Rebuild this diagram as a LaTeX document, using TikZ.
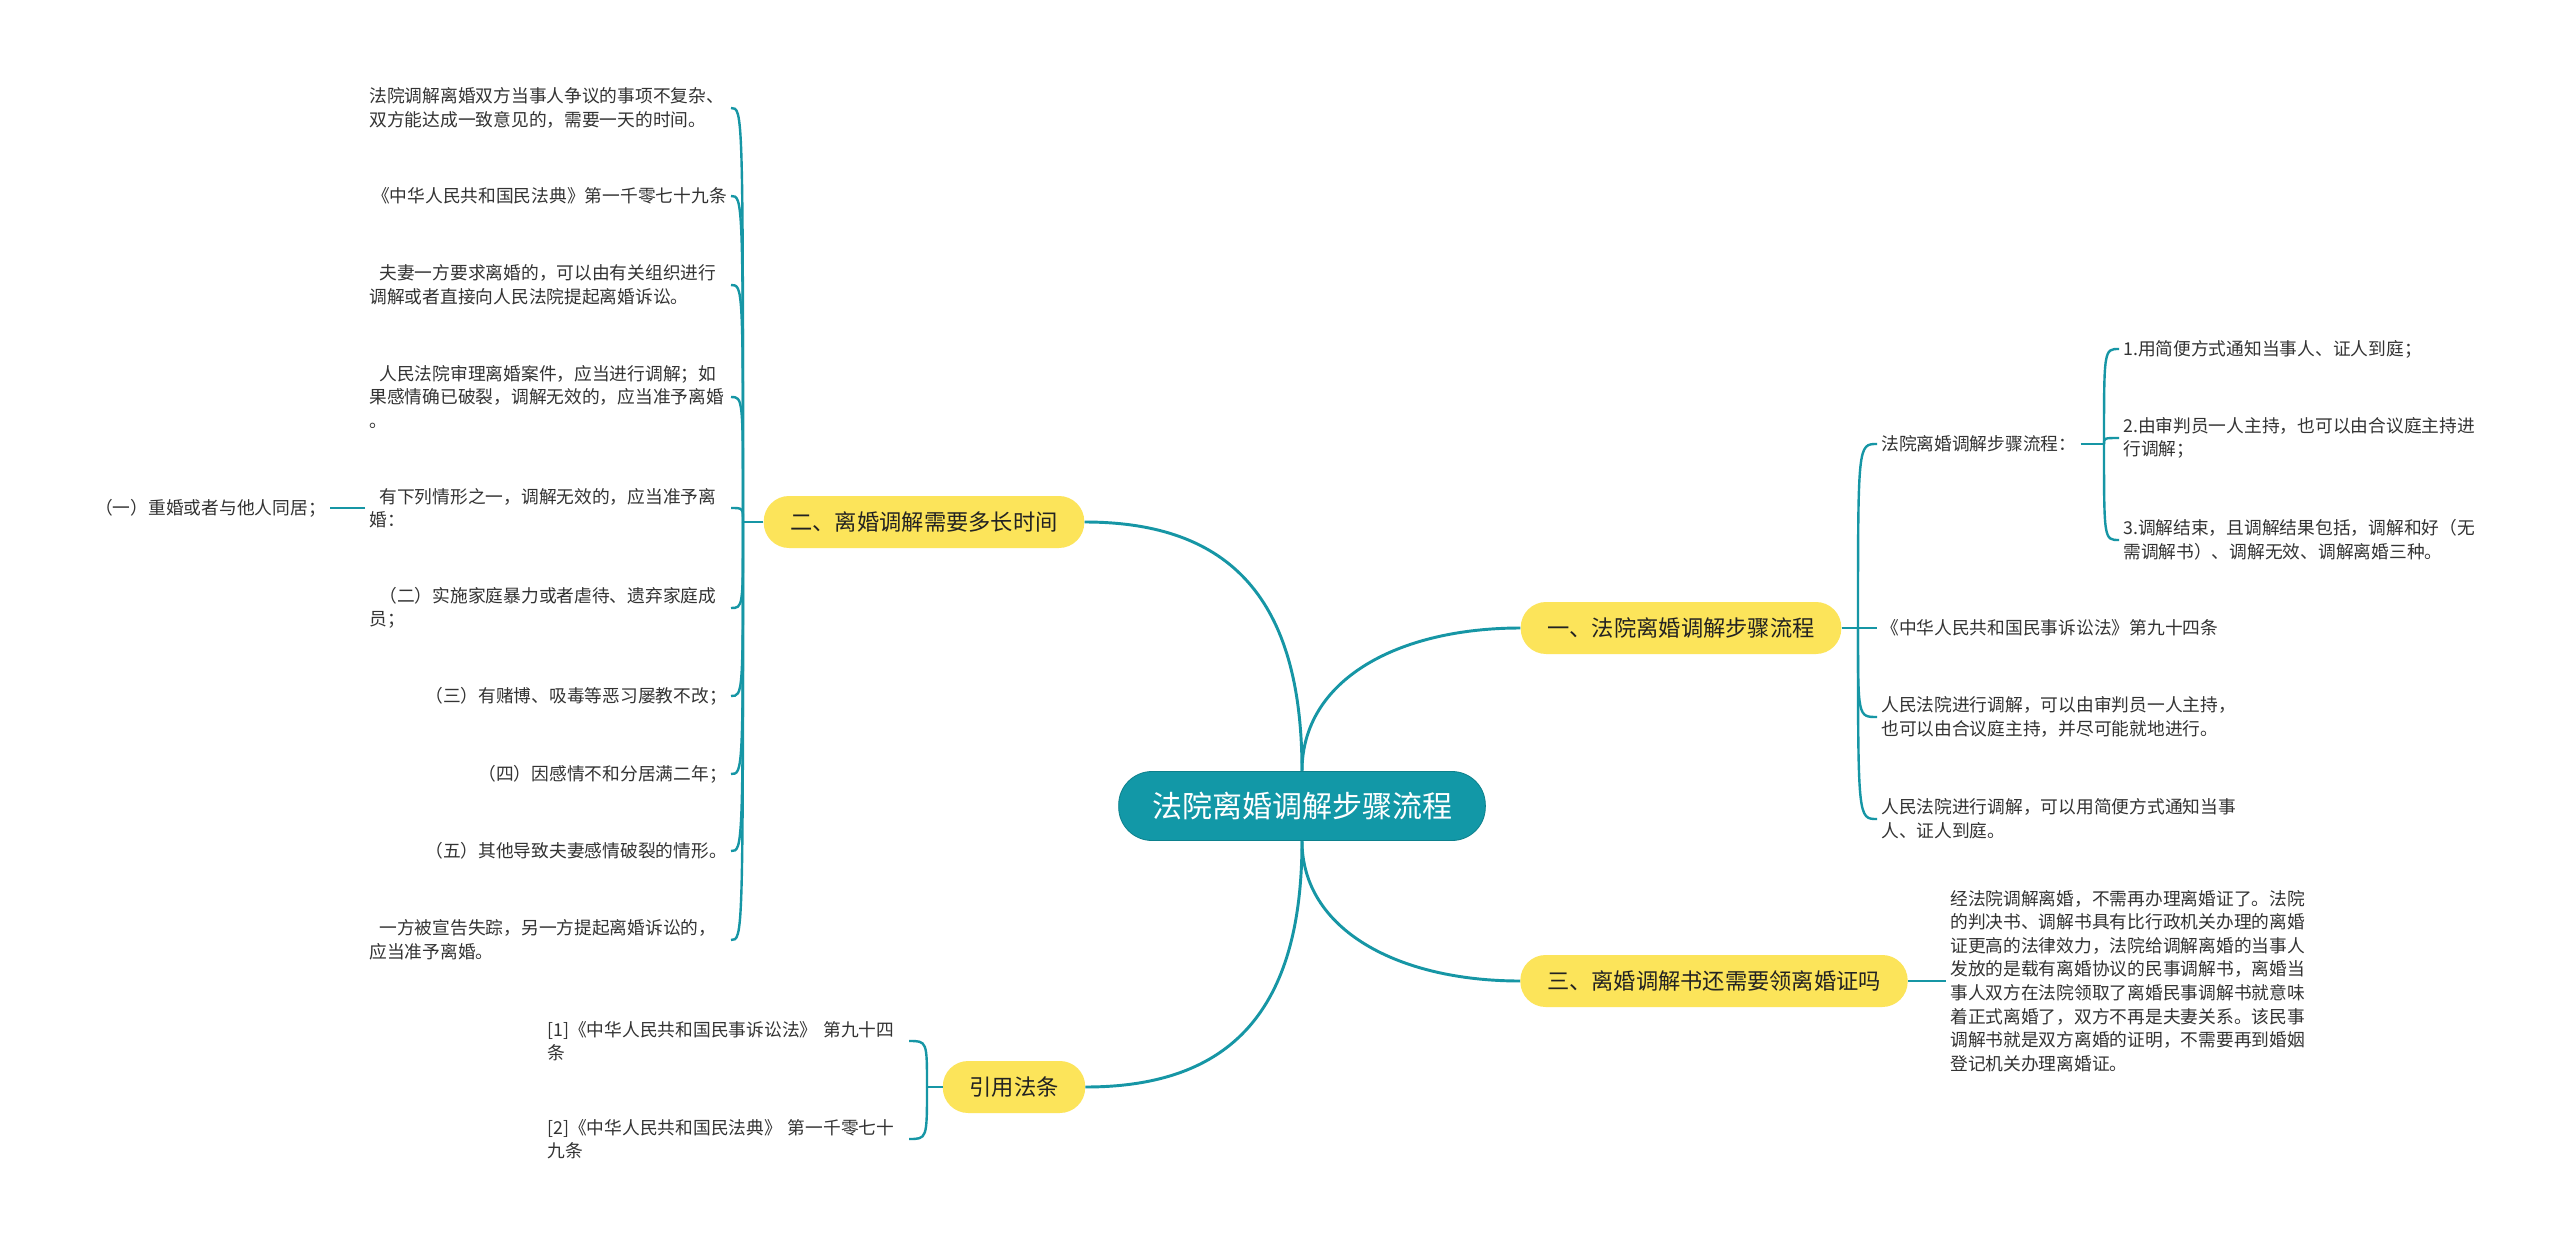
\documentclass[tikz,border=0pt]{standalone}
\usepackage{fontspec}
\newfontfamily\cjk{Noto Sans CJK SC}
\definecolor{linkteal}{RGB}{22,150,165}
\definecolor{rootteal}{RGB}{18,152,167}
\definecolor{rootedge}{RGB}{12,128,140}
\definecolor{branchyellow}{RGB}{252,228,90}
\definecolor{inkdark}{RGB}{34,34,34}
\definecolor{inkgrey}{RGB}{51,51,51}
\begin{document}
\begin{tikzpicture}[x=0.75pt,y=-0.75pt,
  trunk/.style={draw=linkteal,line width=2.2pt},
  twig/.style={draw=linkteal,line width=1.8pt},
  rootbox/.style={fill=rootteal,draw=rootedge,line width=0.6pt,rounded corners=25pt,minimum height=51.75pt,inner xsep=25pt,text=white,font=\cjk\fontsize{22.5pt}{26pt}\selectfont},
  branchbox/.style={fill=branchyellow,rounded corners=19pt,minimum height=39pt,inner xsep=20pt,text=inkdark,font=\cjk\fontsize{16.7pt}{20pt}\selectfont},
  leaf/.style={inner sep=3pt,text=inkgrey,font=\cjk\fontsize{13.3pt}{17.7pt}\selectfont},
  leafwide/.style={leaf,text width=268pt,align=left}]
\useasboundingbox (0,0) rectangle (2560,1245);
\fill[white] (0,0) rectangle (2560,1245);
\node[rootbox] (root) at (1302,806) {法院离婚调解步骤流程};
\node[branchbox] (brone) at (1681,628) {一、法院离婚调解步骤流程};
\node[branchbox] (brtwo) at (924,522) {二、离婚调解需要多长时间};
\node[branchbox] (brthree) at (1714,981) {三、离婚调解书还需要领离婚证吗};
\node[branchbox] (brcite) at (1014,1087) {引用法条};
\draw[trunk] (root.north) .. controls +(0,-172) and +(146,0) .. (brtwo.east);
\draw[trunk] (root.north) .. controls +(0,-92) and +(-122,0) .. (brone.west);
\draw[trunk] (root.south) .. controls +(0,89) and +(-122,0) .. (brthree.west);
\draw[trunk] (root.south) .. controls +(0,169) and +(146,0) .. (brcite.east);
% left branch
\node[leafwide,anchor=east] (two1) at (731,108) {法院调解离婚双方当事人争议的事项不复杂、\\双方能达成一致意见的，需要一天的时间。};
\node[leaf,anchor=east] (two2) at (731,196) {《中华人民共和国民法典》第一千零七十九条};
\node[leafwide,anchor=east] (two3) at (731,285) {\hspace*{7.5pt}夫妻一方要求离婚的，可以由有关组织进行\\调解或者直接向人民法院提起离婚诉讼。};
\node[leafwide,anchor=east] (two4) at (731,397) {\hspace*{7.5pt}人民法院审理离婚案件，应当进行调解；如\\果感情确已破裂，调解无效的，应当准予离婚\\。};
\node[leafwide,anchor=east] (two5) at (731,508) {\hspace*{7.5pt}有下列情形之一，调解无效的，应当准予离\\婚：};
\node[leafwide,anchor=east] (two6) at (731,608) {\hspace*{7.5pt}（二）实施家庭暴力或者虐待、遗弃家庭成\\员；};
\node[leaf,anchor=east] (two7) at (731,696) {（三）有赌博、吸毒等恶习屡教不改；};
\node[leaf,anchor=east] (two8) at (731,774) {（四）因感情不和分居满二年；};
\node[leaf,anchor=east] (two9) at (731,851) {（五）其他导致夫妻感情破裂的情形。};
\node[leafwide,anchor=east] (two10) at (731,940) {\hspace*{7.5pt}一方被宣告失踪，另一方提起离婚诉讼的，\\应当准予离婚。};
\node[leaf,anchor=east] (twosub) at (330,508) {（一）重婚或者与他人同居；};
\coordinate (twospine) at (743,522);
\draw[twig] (brtwo.west) -- (twospine);
\draw[twig] (twospine) .. controls (twospine |- two1.east) .. (two1.east);
\draw[twig] (twospine) .. controls (twospine |- two2.east) .. (two2.east);
\draw[twig] (twospine) .. controls (twospine |- two3.east) .. (two3.east);
\draw[twig] (twospine) .. controls (twospine |- two4.east) .. (two4.east);
\draw[twig] (twospine) .. controls (twospine |- two5.east) .. (two5.east);
\draw[twig] (twospine) .. controls (twospine |- two6.east) .. (two6.east);
\draw[twig] (twospine) .. controls (twospine |- two7.east) .. (two7.east);
\draw[twig] (twospine) .. controls (twospine |- two8.east) .. (two8.east);
\draw[twig] (twospine) .. controls (twospine |- two9.east) .. (two9.east);
\draw[twig] (twospine) .. controls (twospine |- two10.east) .. (two10.east);
\draw[twig] (two5.west) -- (twosub.east);
% right branch
\node[leaf,anchor=west] (one1) at (1877,444) {法院离婚调解步骤流程：};
\node[leaf,anchor=west] (one2) at (1877,628) {《中华人民共和国民事诉讼法》第九十四条};
\node[leafwide,anchor=west] (one3) at (1877,717) {人民法院进行调解，可以由审判员一人主持，\\也可以由合议庭主持，并尽可能就地进行。};
\node[leafwide,anchor=west] (one4) at (1877,819) {人民法院进行调解，可以用简便方式通知当事\\人、证人到庭。};
\node[leaf,anchor=west] (onesub1) at (2119,349) {1.用简便方式通知当事人、证人到庭；};
\node[leafwide,anchor=west] (onesub2) at (2119,438) {2.由审判员一人主持，也可以由合议庭主持进\\行调解；};
\node[leafwide,anchor=west] (onesub3) at (2119,540) {3.调解结束，且调解结果包括，调解和好（无\\需调解书）、调解无效、调解离婚三种。};
\coordinate (onespine) at (1858,628);
\coordinate (subspine) at (2104,444);
\draw[twig] (brone.east) -- (onespine);
\draw[twig] (onespine) .. controls (onespine |- one1.west) .. (one1.west);
\draw[twig] (onespine) -- (one2.west);
\draw[twig] (onespine) .. controls (onespine |- one3.west) .. (one3.west);
\draw[twig] (onespine) .. controls (onespine |- one4.west) .. (one4.west);
\draw[twig] (one1.east) -- (subspine);
\draw[twig] (subspine) .. controls (subspine |- onesub1.west) .. (onesub1.west);
\draw[twig] (subspine) .. controls (subspine |- onesub2.west) .. (onesub2.west);
\draw[twig] (subspine) .. controls (subspine |- onesub3.west) .. (onesub3.west);
% lower branches
\node[leafwide,anchor=west] (three1) at (1946,981) {经法院调解离婚，不需再办理离婚证了。法院\\的判决书、调解书具有比行政机关办理的离婚\\证更高的法律效力，法院给调解离婚的当事人\\发放的是载有离婚协议的民事调解书，离婚当\\事人双方在法院领取了离婚民事调解书就意味\\着正式离婚了，双方不再是夫妻关系。该民事\\调解书就是双方离婚的证明，不需要再到婚姻\\登记机关办理离婚证。};
\draw[twig] (brthree.east) -- (three1.west);
\node[leafwide,anchor=east] (cite1) at (909,1041) {[1]《中华人民共和国民事诉讼法》 第九十四\\条};
\node[leafwide,anchor=east] (cite2) at (909,1139) {[2]《中华人民共和国民法典》 第一千零七十\\九条};
\coordinate (citespine) at (927,1087);
\draw[twig] (brcite.west) -- (citespine);
\draw[twig] (citespine) .. controls (citespine |- cite1.east) .. (cite1.east);
\draw[twig] (citespine) .. controls (citespine |- cite2.east) .. (cite2.east);
\end{tikzpicture}
\end{document}
